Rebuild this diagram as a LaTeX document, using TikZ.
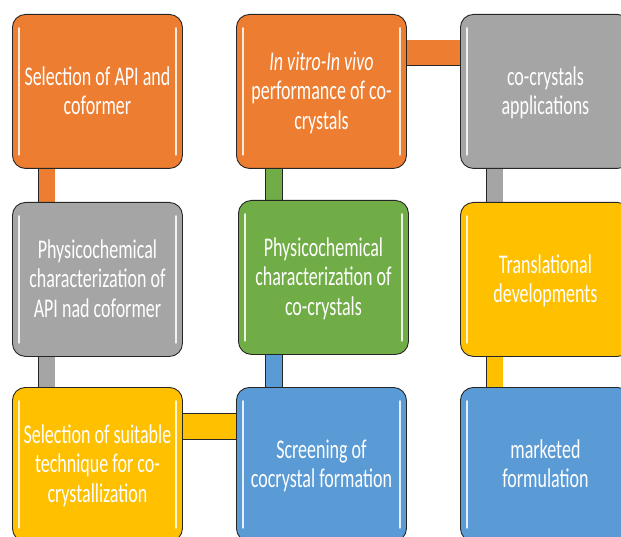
\documentclass[tikz,border=0pt]{standalone}
\usepackage{fontspec}
\setmainfont{Carlito}
\usetikzlibrary{backgrounds}
\definecolor{cOr}{HTML}{ED7D31}
\definecolor{cGr}{HTML}{A5A5A5}
\definecolor{cGn}{HTML}{70AD47}
\definecolor{cYe}{HTML}{FFC000}
\definecolor{cBl}{HTML}{5B9BD5}
\newcommand{\boxtxt}[1]{\raisebox{-2.5pt}[\height][\depth]{\scalebox{1}[1.5]{\fontsize{18}{19.5}\selectfont\begin{tabular}{@{}c@{}}#1\end{tabular}}}}
\begin{document}
\begin{tikzpicture}[x=1pt,y=-1pt,
  box/.style={draw=black!85, line width=0.9pt, rounded corners=13pt, minimum width=170pt,
    minimum height=154pt, anchor=north west, inner sep=0pt, text=white, align=center, fill=#1},
  hl/.style={white, opacity=0.85, line width=1.6pt, line cap=round},
  vconn/.style={double=#1, double distance=16pt, line width=0.8pt, draw=black!85},
  hconn/.style={double=#1, double distance=25pt, line width=0.8pt, draw=black!85}]
\useasboundingbox (0,0) rectangle (621,537);
\clip (0,0) rectangle (621,537);
\node[box=cOr] (b1) at (12,14) {\boxtxt{Selection of API and\\coformer}};
\node[box=cOr] (b2) at (236,14) {\boxtxt{\textit{In vitro-In vivo}\\performance of co-\\crystals}};
\node[box=cGr] (b3) at (460,14) {\boxtxt{co-crystals\\applications}};
\node[box=cGr] (b4) at (12,202) {\boxtxt{Physicochemical\\characterization of\\API nad coformer}};
\node[box=cGn] (b5) at (238,200) {\boxtxt{Physicochemical\\characterization of\\co-crystals}};
\node[box=cYe] (b6) at (460,202) {\boxtxt{Translational\\developments}};
\node[box=cYe] (b7) at (12,387) {\boxtxt{Selection of suitable\\technique for co-\\crystallization}};
\node[box=cBl] (b8) at (236,387) {\boxtxt{Screening of\\cocrystal formation}};
\node[box=cBl] (b9) at (460,387) {\boxtxt{marketed\\formulation}};
\foreach \b in {b1,b2,b3,b4,b5,b6,b7,b8,b9}{
  \draw[hl] ([xshift=7pt,yshift=-14pt]\b.north west) -- ([xshift=7pt,yshift=14pt]\b.south west);
  \draw[hl] ([xshift=-7pt,yshift=-14pt]\b.north east) -- ([xshift=-7pt,yshift=14pt]\b.south east);
}
\begin{pgfonlayer}{background}
\draw[vconn=cOr] ([xshift=34.5pt,yshift=2pt]b1.south west) -- ([xshift=34.5pt,yshift=-2pt]b4.north west);
\draw[vconn=cGr] ([xshift=34.5pt,yshift=2pt]b4.south west) -- ([xshift=34.5pt,yshift=-2pt]b7.north west);
\draw[vconn=cGn] ([xshift=38pt,yshift=2pt]b2.south west) -- ([xshift=36pt,yshift=-2pt]b5.north west);
\draw[vconn=cBl] ([xshift=36pt,yshift=2pt]b5.south west) -- ([xshift=38pt,yshift=-2pt]b8.north west);
\draw[vconn=cGr] ([xshift=34.5pt,yshift=2pt]b3.south west) -- ([xshift=34.5pt,yshift=-2pt]b6.north west);
\draw[vconn=cYe] ([xshift=34.5pt,yshift=2pt]b6.south west) -- ([xshift=34.5pt,yshift=-2pt]b9.north west);
\draw[hconn=cOr] ([xshift=-2pt,yshift=-39pt]b2.north east) -- ([xshift=2pt,yshift=-39pt]b3.north west);
\draw[hconn=cYe] ([xshift=-2pt,yshift=-39.5pt]b7.north east) -- ([xshift=2pt,yshift=-39.5pt]b8.north west);
\end{pgfonlayer}
\end{tikzpicture}
\end{document}
